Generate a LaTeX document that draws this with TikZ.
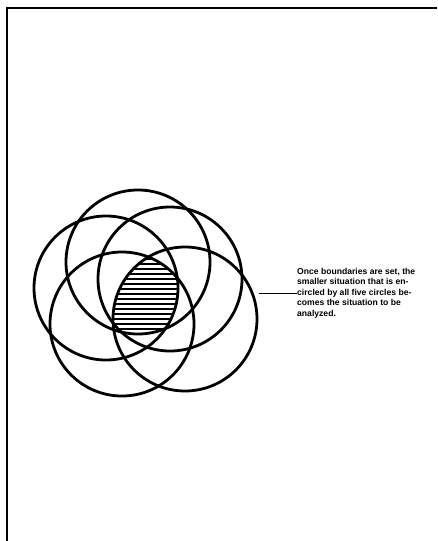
\documentclass[tikz,border=0pt]{standalone}
\usepackage{fontspec}
\setmainfont{Liberation Sans}
\begin{document}
\begin{tikzpicture}[x=1pt,y=-1pt,
    ring/.style={line width=2.8pt},
    hatch/.style={line width=1.5pt},
    note/.style={font=\bfseries\fontsize{8.6}{10.6}\selectfont,align=left,inner sep=0pt,anchor=west}]
    \useasboundingbox (0,0) rectangle (437,541);
    % frame
    \draw[line width=2.6pt] (7,541) -- (7,8) -- (437,8);
    \coordinate (l) at (106,288);
    \coordinate (t) at (138,262);
    \coordinate (tr) at (170,279);
    \coordinate (r) at (185,319);
    \coordinate (bl) at (122,324);
    % common part
    \begin{scope}
        \clip (l) circle[radius=72pt];
        \clip (t) circle[radius=72pt];
        \clip (tr) circle[radius=72pt];
        \clip (r) circle[radius=72pt];
        \clip (bl) circle[radius=72pt];
        \foreach \y in {254,259,...,340}
            \draw[hatch] (100,\y) -- (195,\y);
    \end{scope}
    \foreach \c in {l,t,tr,r,bl}
        \draw[ring] (\c) circle[radius=72pt];
    \coordinate (p) at (259,293);
    \node[note] (txt) at (297,293) {Once boundaries are set, the\\smaller situation that is en-\\circled by all five circles be-\\comes the situation to be\\analyzed.};
    \draw[line width=1pt] (p) -- (txt.west);
\end{tikzpicture}
\end{document}
